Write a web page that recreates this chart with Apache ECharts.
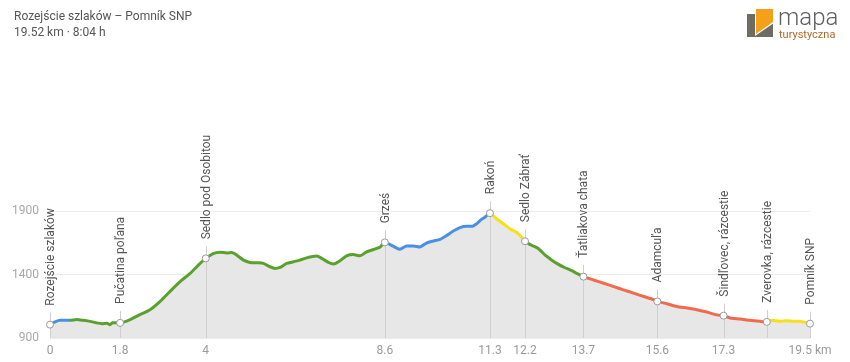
<!DOCTYPE html>
<html>
<head>
<meta charset="utf-8">
<script src="https://cdn.jsdelivr.net/npm/echarts@6/dist/echarts.min.js"></script>
<style>
html,body{margin:0;padding:0;background:#fff;}
#chart{width:850px;height:362px;}
</style>
</head>
<body>
<div id="chart"></div>
<script>
// Elevation profile (distance in km, elevation in m)
const distKm = [0.00,0.13,0.26,0.51,0.69,0.85,1.03,1.20,1.33,1.46,1.54,1.61,1.80,2.06,2.31,2.57,2.83,3.08,3.34,3.60,3.81,4.00,4.19,4.37,4.54,4.67,4.80,4.97,5.14,5.35,5.48,5.65,5.78,5.91,6.08,6.25,6.42,6.59,6.85,6.98,7.15,7.28,7.41,7.62,7.79,7.96,8.13,8.31,8.48,8.60,8.80,8.99,9.16,9.33,9.50,9.67,9.85,10.02,10.19,10.36,10.53,10.70,10.83,10.96,11.05,11.17,11.30,11.47,11.64,11.81,11.99,12.11,12.20,12.37,12.54,12.72,12.89,13.06,13.23,13.40,13.53,13.70,13.96,14.22,14.48,14.73,14.99,15.25,15.51,15.60,15.84,16.10,16.36,16.61,16.87,17.09,17.30,17.47,17.73,17.98,18.24,18.41,18.54,18.75,18.92,19.09,19.26,19.39,19.52];
const elevM = [1005,1027,1039,1039,1045,1039,1031,1019,1013,1016,1005,1021,1019,1045,1084,1123,1188,1266,1344,1409,1474,1527,1565,1576,1570,1573,1552,1513,1495,1492,1487,1461,1448,1456,1487,1500,1513,1531,1545,1527,1495,1482,1500,1547,1557,1547,1578,1597,1617,1653,1625,1599,1625,1625,1617,1648,1664,1677,1708,1742,1769,1779,1779,1800,1826,1851,1883,1839,1800,1761,1730,1695,1662,1630,1605,1552,1513,1480,1453,1430,1409,1383,1357,1331,1305,1279,1253,1227,1201,1188,1170,1148,1136,1123,1105,1084,1076,1058,1050,1039,1031,1027,1039,1031,1036,1031,1031,1023,1013];

// Waypoints
const wpNames = ["Rozejście szlaków","Pučatina poľana","Sedlo pod Osobitou","Grześ","Rakoń","Sedlo Zábrať","Ťatliakova chata","Adamcuľa","Šindľovec, rázcestie","Zverovka, rázcestie","Pomník SNP"];
const wpKm = [0.00,1.80,4.00,8.60,11.30,12.20,13.70,15.60,17.30,18.41,19.52];
const wpElev = [1005,1019,1527,1653,1883,1662,1383,1188,1076,1027,1013];

// Trail colour segments (km ranges)
const segStart = [0.0, 0.5, 8.6, 11.3, 12.2, 13.7, 18.41];
const segEnd   = [0.5, 8.6, 11.3, 12.2, 13.7, 18.41, 19.52];
const segColor = ["#4a90e2","#5aa02c","#4a90e2","#f5e01a","#5aa02c","#f26a4b","#f5e01a"];

// Axis ticks
const xTickValues = [0,1.8,4,8.6,11.3,12.2,13.7,15.6,17.3,19.52];
const yTickValues = [900,1400,1900];
const totalKm = 19.52;

const profile = distKm.map((d,i)=>[d, elevM[i]]);
const waypoints = wpKm.map((d,i)=>[d, wpElev[i], wpNames[i]]);
const pieces = segStart.map((s,i)=>(
  i === segStart.length-1 ? {gte:s, lte:segEnd[i]+1, color:segColor[i]} : {gte:s, lt:segEnd[i], color:segColor[i]}
));

const chart = echarts.init(document.getElementById('chart'), null, {renderer:'canvas'});
const FONT = 'Roboto, "Noto Sans", sans-serif';

chart.setOption({
  animation:false,
  backgroundColor:'#fff',
  grid:{left:50, right:40, top:211, bottom:24, outerBoundsMode:'none', containLabel:false},
  xAxis:{
    type:'value', min:0, max:totalKm,
    axisLine:{show:false}, axisTick:{show:false}, splitLine:{show:false},
    axisLabel:{
      customValues:xTickValues,
      color:'#9a9a9a', fontSize:12, fontFamily:FONT, margin:7,
      showMinLabel:true, showMaxLabel:true, hideOverlap:false,
      formatter:(v)=> Math.abs(v-totalKm)<1e-6 ? '19.5 km' : String(v)
    }
  },
  yAxis:{
    type:'value', min:yTickValues[0], max:yTickValues[yTickValues.length-1], interval:500,
    axisLine:{show:false}, axisTick:{show:false},
    splitLine:{show:true, lineStyle:{color:'#ececec', width:1}},
    axisLabel:{color:'#a8a8a8', fontSize:12, fontFamily:FONT, margin:11, formatter:(v)=>String(v)}
  },
  visualMap:{
    type:'piecewise', show:false, dimension:0, seriesIndex:2,
    pieces:pieces
  },
  graphic:[
    {type:'text', left:14, top:11, style:{text:'Rozejście szlaków – Pomník SNP', fill:'#555', font:'12px '+FONT}},
    {type:'text', left:14, top:27, style:{text:'19.52 km · 8:04 h', fill:'#555', font:'12px '+FONT}},
    {type:'group', left:747, top:7, children:[
      {type:'rect', shape:{x:0, y:5, width:26, height:23}, style:{fill:'#6e6c62'}},
      {type:'polygon', shape:{points:[[8,0],[27,0],[27,14],[8,27]]}, style:{fill:'#fff'}},
      {type:'polygon', shape:{points:[[9,0],[26,0],[26,13],[9,25]]}, style:{fill:'#f6a01a'}},
      {type:'text', x:31, y:-2, style:{text:'mapa', fill:'#5e5e5e', font:'300 24px '+FONT}},
      {type:'text', x:32, y:21, style:{text:'turystyczna', fill:'#b0682a', font:'11px '+FONT}}
    ]}
  ],
  series:[
    {
      type:'line', data:profile, symbol:'none', z:1,
      lineStyle:{width:0, opacity:0},
      areaStyle:{color:'#e7e7e7', opacity:1},
      silent:true
    },
    {
      type:'custom', z:2, data:waypoints, silent:true, clip:false,
      encode:{x:0, y:1},
      renderItem:(params, api)=>{
        const p = api.coord([api.value(0), api.value(1)]);
        const b = api.coord([api.value(0), 900]);
        return {type:'line', shape:{x1:Math.round(p[0])+0.5, y1:b[1], x2:Math.round(p[0])+0.5, y2:p[1]-12},
                style:{stroke:'#cfcfcf', lineWidth:1}};
      }
    },
    {
      type:'line', data:profile, symbol:'none', z:3, smooth:0.2,
      lineStyle:{width:3, cap:'round', join:'round'},
      silent:true
    },
    {
      type:'custom', z:4, data:waypoints, silent:true, clip:false,
      encode:{x:0, y:1},
      renderItem:(params, api)=>{
        const p = api.coord([api.value(0), api.value(1)]);
        const name = wpNames[params.dataIndex];
        return {type:'group', children:[
          {type:'circle', shape:{cx:p[0], cy:p[1], r:3.5}, style:{fill:'#fff', stroke:'#9a9a9a', lineWidth:1}},
          {type:'text', x:Math.round(p[0])+0.5, y:p[1]-19, rotation:Math.PI/2,
           style:{text:name, fill:'#555', font:'12px '+FONT, align:'left', verticalAlign:'middle'}}
        ]};
      }
    }
  ]
});
</script>
</body>
</html>
